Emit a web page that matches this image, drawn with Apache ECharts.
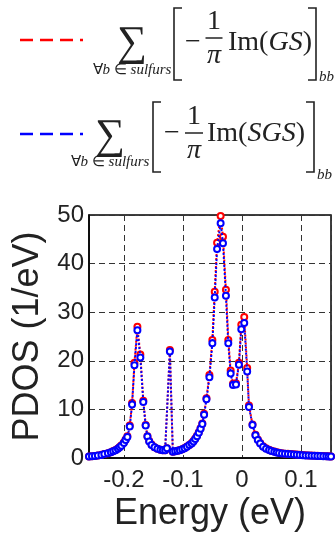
<!DOCTYPE html>
<html>
<head>
<meta charset="utf-8">
<script src="https://cdn.jsdelivr.net/npm/echarts@6/dist/echarts.min.js"></script>
<style>
  html, body { margin: 0; padding: 0; background: #fff; }
  #chart { width: 335px; height: 533px; }
</style>
</head>
<body>
<div id="chart"></div>
<script>
// energy grid (eV) and projected DOS on sulfur sites (1/eV)
const energy = [
  -0.259, -0.254, -0.249, -0.244, -0.238, -0.233, -0.227, -0.222, -0.218, -0.214,
  -0.210, -0.207, -0.204, -0.200, -0.197, -0.194, -0.190, -0.186, -0.182, -0.177,
  -0.172, -0.167, -0.163, -0.160, -0.157, -0.153, -0.148, -0.143, -0.138, -0.134,
  -0.130, -0.127, -0.122, -0.117, -0.113, -0.109, -0.105, -0.101, -0.097, -0.093,
  -0.089, -0.085, -0.082, -0.079, -0.076, -0.073, -0.070, -0.067, -0.064, -0.060,
  -0.055, -0.050, -0.046, -0.042, -0.036, -0.032, -0.027, -0.023, -0.019, -0.015,
  -0.010, -0.005, -0.001, 0.004, 0.009, 0.012, 0.018, 0.023, 0.027, 0.031,
  0.036, 0.041, 0.046, 0.050, 0.055, 0.059, 0.063, 0.068, 0.073, 0.078,
  0.083, 0.088, 0.093, 0.098, 0.103, 0.108, 0.113, 0.118, 0.123, 0.128,
  0.133, 0.138, 0.143, 0.147, 0.151
];

const pdosGS = [
  0.3, 0.35, 0.4, 0.5, 0.65, 0.8, 1.0, 1.2, 1.45, 1.65,
  1.95, 2.25, 2.6, 3.2, 3.8, 4.5, 6.7, 11.3, 19.6, 27.0,
  21.3, 11.8, 6.8, 4.5, 3.5, 2.8, 2.2, 1.9, 1.7, 1.6,
  1.6, 2.0, 22.2, 1.3, 1.4, 1.5, 1.65, 1.8, 2.05, 2.35,
  2.7, 3.1, 3.5, 4.0, 4.6, 5.3, 6.1, 7.1, 9.1, 12.3,
  17.1, 24.3, 34.2, 44.3, 49.8, 45.5, 34.6, 24.3, 18.0, 15.3,
  15.4, 19.6, 27.4, 29.0, 18.5, 10.8, 6.9, 4.8, 3.8, 3.1,
  2.4, 2.0, 1.7, 1.5, 1.35, 1.2, 1.1, 1.0, 0.9, 0.85,
  0.8, 0.75, 0.7, 0.65, 0.6, 0.55, 0.5, 0.5, 0.45, 0.45,
  0.4, 0.4, 0.35, 0.35, 0.3
];

const pdosSGS = [
  0.3, 0.35, 0.4, 0.5, 0.6, 0.8, 1.0, 1.2, 1.4, 1.6,
  1.9, 2.2, 2.5, 3.1, 3.7, 4.3, 6.5, 11.0, 19.1, 26.3,
  20.7, 11.5, 6.7, 4.4, 3.4, 2.7, 2.2, 1.9, 1.7, 1.6,
  1.6, 2.0, 21.9, 1.3, 1.4, 1.5, 1.6, 1.8, 2.0, 2.3,
  2.7, 3.0, 3.4, 3.9, 4.5, 5.2, 6.0, 7.0, 8.9, 12.1,
  16.6, 23.6, 33.0, 43.0, 48.3, 44.2, 33.4, 23.6, 17.4, 15.0,
  15.1, 19.2, 26.5, 27.8, 17.8, 10.5, 6.8, 4.7, 3.7, 3.0,
  2.3, 1.9, 1.65, 1.45, 1.3, 1.15, 1.05, 0.95, 0.85, 0.8,
  0.75, 0.7, 0.65, 0.6, 0.55, 0.5, 0.5, 0.45, 0.45, 0.4,
  0.4, 0.35, 0.35, 0.3, 0.3
];

const yTicks = [0, 10, 20, 30, 40, 50];

const SANS = '"Liberation Sans", Arial, sans-serif';
const SERIF = '"Liberation Serif", "Times New Roman", serif';
const INK = '#222';

const pairs = (ys) => energy.map((x, i) => [x, ys[i]]);

// formula legend, drawn as text + a few strokes (brackets, fraction bar)
function formulaLegend(o) {
  const { lineY, color, sumX, sumY, subY, lb, rb, top, bottom, minusX, fracX, fracW, barY, imX, midY, imText, bbY } = o;
  return [
    { type: 'line', shape: { x1: 20, y1: lineY, x2: 83, y2: lineY },
      style: { stroke: color, lineWidth: 2.5, lineDash: [13, 7] } },
    { type: 'text', x: sumX, y: sumY,
      style: { text: '\u2211', font: `42px ${SERIF}`, fill: INK, align: 'center', verticalAlign: 'middle' } },
    { type: 'text', x: sumX, y: subY,
      style: { text: '\u2200{i|b} \u2208 {i|sulfurs}', font: `15px ${SERIF}`, fill: INK, align: 'center', verticalAlign: 'middle',
        rich: { i: { font: `italic 15px ${SERIF}`, fill: INK } } } },
    { type: 'polyline', shape: { points: [[lb + 8, top], [lb, top], [lb, bottom], [lb + 8, bottom]] },
      style: { stroke: INK, lineWidth: 1.6, fill: null } },
    { type: 'text', x: minusX, y: midY,
      style: { text: '\u2212', font: `28px ${SERIF}`, fill: INK, align: 'center', verticalAlign: 'middle' } },
    { type: 'text', x: fracX, y: barY - 16,
      style: { text: '1', font: `28px ${SERIF}`, fill: INK, align: 'center', verticalAlign: 'middle' } },
    { type: 'line', shape: { x1: fracX - fracW / 2, y1: barY, x2: fracX + fracW / 2, y2: barY },
      style: { stroke: INK, lineWidth: 1.5 } },
    { type: 'text', x: fracX, y: barY + 18,
      style: { text: '\u03c0', font: `italic 28px ${SERIF}`, fill: INK, align: 'center', verticalAlign: 'middle' } },
    { type: 'text', x: imX, y: midY,
      style: { text: `Im({i|${imText}})`, font: `28px ${SERIF}`, fill: INK, align: 'left', verticalAlign: 'middle',
        rich: { i: { font: `italic 28px ${SERIF}`, fill: INK } } } },
    { type: 'polyline', shape: { points: [[rb - 8, top], [rb, top], [rb, bottom], [rb - 8, bottom]] },
      style: { stroke: INK, lineWidth: 1.6, fill: null } },
    { type: 'text', x: rb + 3, y: bbY,
      style: { text: 'bb', font: `italic 15px ${SERIF}`, fill: INK, align: 'left', verticalAlign: 'middle' } },
  ];
}

const chart = echarts.init(document.getElementById('chart'), null, { renderer: 'canvas' });

const markerSeries = (name, data, color, z, dashOffset) => ({
  name,
  type: 'line',
  data,
  z,
  clip: false,
  symbol: 'circle',
  symbolSize: 6,
  showAllSymbol: true,
  itemStyle: { color: '#fff', borderColor: color, borderWidth: 2 },
  lineStyle: { color, width: 2, type: [2, 2], dashOffset },
  emphasis: { disabled: true },
  animation: false,
});

chart.setOption({
  backgroundColor: '#fff',
  animation: false,
  grid: { left: 89, right: 4, top: 215, bottom: 75, show: true, borderColor: '#000', borderWidth: 1.5, containLabel: false },
  xAxis: {
    type: 'value',
    min: -0.259,
    max: 0.151,
    splitNumber: 5,
    name: 'Energy (eV)',
    nameLocation: 'middle',
    nameGap: 38,
    nameTextStyle: { fontFamily: SANS, fontSize: 36, color: INK },
    axisLine: { show: true, onZero: false, lineStyle: { color: '#000', width: 1.5 } },
    axisTick: { show: false },
    axisLabel: { showMinLabel: false, showMaxLabel: false, fontFamily: SANS, fontSize: 24, color: INK, margin: 10 },
    splitLine: { show: true, lineStyle: { color: '#333', type: [6, 4], width: 1 } },
  },
  yAxis: {
    type: 'value',
    min: yTicks[0],
    max: yTicks[yTicks.length - 1],
    interval: 10,
    name: 'PDOS (1/eV)',
    nameLocation: 'middle',
    nameGap: 32,
    nameTextStyle: { fontFamily: SANS, fontSize: 36, color: INK },
    axisLine: { show: true, onZero: false, lineStyle: { color: '#000', width: 1.5 } },
    axisTick: { show: false },
    axisLabel: { fontFamily: SANS, fontSize: 24, color: INK, margin: 5 },
    splitLine: { show: true, lineStyle: { color: '#333', type: [6, 4], width: 1 } },
  },
  series: [
    markerSeries('GS', pairs(pdosGS), '#ff0000', 2, 0),
    markerSeries('SGS', pairs(pdosSGS), '#0000ff', 3, 2),
  ],
  graphic: [
    ...formulaLegend({ lineY: 40, color: '#ff0000', sumX: 132, sumY: 44, subY: 70, lb: 174, rb: 316, top: 8, bottom: 80,
      minusX: 193, fracX: 214, fracW: 17, barY: 38, imX: 228, midY: 43, imText: 'GS', bbY: 77 }),
    ...formulaLegend({ lineY: 134, color: '#0000ff', sumX: 110, sumY: 137, subY: 162, lb: 153, rb: 314, top: 102, bottom: 172,
      minusX: 172, fracX: 194, fracW: 18, barY: 133, imX: 207, midY: 134, imText: 'SGS', bbY: 175 }),
  ],
});
</script>
</body>
</html>
